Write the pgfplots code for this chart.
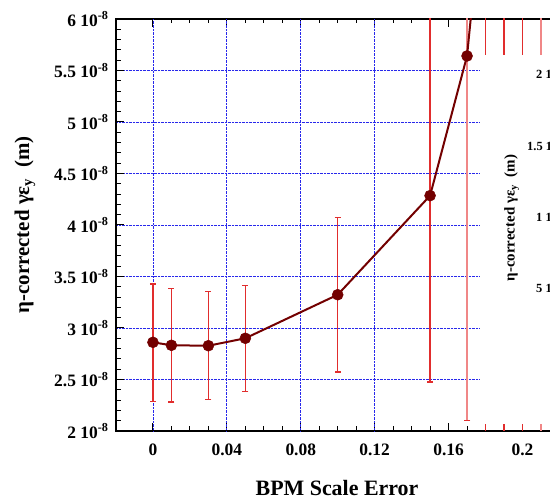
\documentclass[border=0pt]{standalone}
\usepackage{pgfplots}
\pgfplotsset{compat=1.18}
\usepackage{pgfplotstable}
\usepackage{fontspec}
\setmainfont{Liberation Serif}

\definecolor{ebar}{RGB}{225,45,45}
\definecolor{ebarl}{RGB}{240,135,135}
\definecolor{dred}{RGB}{115,0,0}
\definecolor{gridblue}{RGB}{40,40,235}

\pgfplotstableread{
x     y         ep        em
0     2.861e-8  0.566e-8  0.573e-8
0.01  2.832e-8  0.550e-8  0.550e-8
0.03  2.828e-8  0.524e-8  0.524e-8
0.05  2.900e-8  0.511e-8  0.518e-8
0.10  3.323e-8  0.748e-8  0.750e-8
0.15  4.285e-8  1.809e-8  1.809e-8
0.17  5.641e-8  3.537e-8  3.537e-8
0.18  7.45e-8   5.6e-8    5.6e-8
0.19  9.5e-8    8.0e-8    8.0e-8
0.20  12.0e-8   10.5e-8   10.5e-8
0.21  15.0e-8   13.5e-8   13.5e-8
}\datatable

\begin{document}
\begin{tikzpicture}[x=1bp,y=1bp]
\begin{axis}[
  at={(116bp,70bp)}, anchor=south west,
  scale only axis, width=480.35bp, height=412bp,
  xmin=-0.02, xmax=0.24, ymin=2e-8, ymax=6e-8,
  axis line style={line width=1.3bp, black},
  xtick={0,0.04,0.08,0.12,0.16,0.2},
  xticklabels={0,0.04,0.08,0.12,0.16,0.2},
  ytick={2e-8,2.5e-8,3e-8,3.5e-8,4e-8,4.5e-8,5e-8,5.5e-8,6e-8},
  yticklabels={2 10\textsuperscript{-8},2.5 10\textsuperscript{-8},3 10\textsuperscript{-8},3.5 10\textsuperscript{-8},4 10\textsuperscript{-8},4.5 10\textsuperscript{-8},5 10\textsuperscript{-8},5.5 10\textsuperscript{-8},6 10\textsuperscript{-8}},
  scaled y ticks=false, scaled x ticks=false,
  minor x tick num=3, minor y tick num=4,
  tick align=inside,
  major tick length=8bp, minor tick length=4.5bp,
  every tick/.style={black, line width=1bp},
  tick label style={font=\fontsize{17.5}{18}\selectfont\bfseries},
  xticklabel style={yshift=-9bp},
  yticklabel style={xshift=-4bp},
  ymajorgrids=true,
  grid style={gridblue, densely dotted, line width=0.8bp},
  extra x ticks={0,0.04,0.08,0.12},
  extra x tick labels={},
  extra x tick style={grid=major, major tick length=0pt},
  clip=true,
]
% error bars, all points
\addplot[ebar, draw=none, mark=none, forget plot,
  error bars/.cd, y dir=both, y explicit,
  error bar style={ebar, line width=1.3bp},
  error mark options={ebar, rotate=90, mark size=3bp, line width=1.2bp}]
  table[x=x, y=y, y error plus=ep, y error minus=em]{\datatable};
% error bars drawn lighter at 0.17
\addplot[ebarl, draw=none, mark=none, forget plot,
  restrict x to domain=0.165:0.175,
  error bars/.cd, y dir=both, y explicit,
  error bar style={ebarl, line width=2.2bp},
  error mark options={ebar, rotate=90, mark size=3bp, line width=1.2bp}]
  table[x=x, y=y, y error plus=ep, y error minus=em]{\datatable};
% error bars drawn lighter at 0.21
\addplot[ebarl, draw=none, mark=none, forget plot,
  restrict x to domain=0.205:0.215,
  error bars/.cd, y dir=both, y explicit,
  error bar style={ebarl, line width=1.8bp},
  error mark options={ebarl, rotate=90, mark size=3bp, line width=1.2bp}]
  table[x=x, y=y, y error plus=ep, y error minus=em]{\datatable};
% line and markers
\addplot[dred, line width=2bp, mark=*, mark size=5.5bp,
  mark options={fill=dred, draw=dred, line width=0.5bp}]
  table[x=x, y=y]{\datatable};
\end{axis}
% overlay of the second figure
\fill[white] (480,77) rectangle (551,446);
\node[rotate=90, font=\fontsize{15}{15}\selectfont\bfseries, inner sep=0pt] at (511.7,283) {η-corrected γε\textsubscript{y}\ \ (m)};
\begin{scope}[every node/.style={anchor=base west, inner sep=0pt, font=\fontsize{12.5}{13}\selectfont\bfseries}]
\node at (536,422) {2 1};
\node at (527,350.5) {1.5 1};
\node at (536,279.5) {1 1};
\node at (536,208.5) {5 1};
\end{scope}
% axis titles
\node[rotate=90, font=\fontsize{21}{21}\selectfont\bfseries, inner sep=0pt] at (25,276) {η-corrected γε\textsubscript{y}\ \ (m)};
\node[font=\fontsize{22}{22}\selectfont\bfseries, inner sep=0pt] at (337,13) {BPM Scale Error};
\pgfresetboundingbox
\useasboundingbox (0,0) rectangle (550,501);
\end{tikzpicture}
\end{document}
